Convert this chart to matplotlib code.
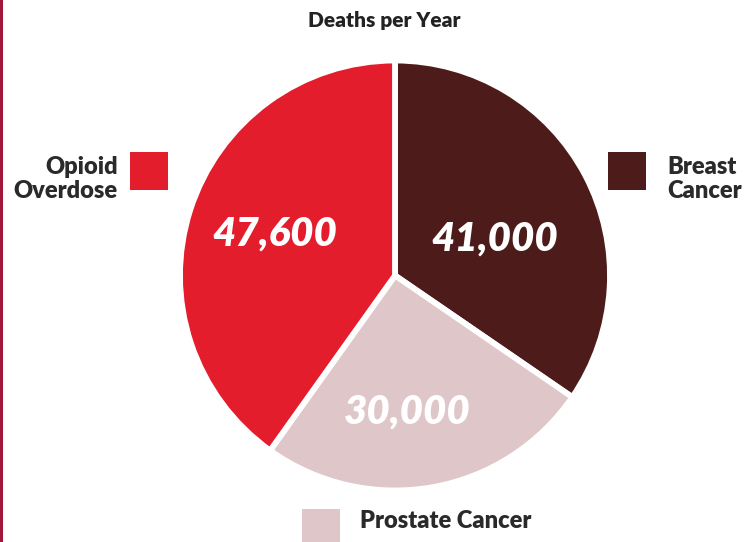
import matplotlib
matplotlib.use('Agg')
import matplotlib.pyplot as plt
from matplotlib.patches import Rectangle

# data, clockwise from 12 o'clock
causes = ['Breast\nCancer', 'Prostate Cancer', 'Opioid\nOverdose']
deaths = [41000, 30000, 47600]
colors = ['#4d1c1a', '#dfc6c9', '#e31d2c']

W, H = 746, 542
fig = plt.figure(figsize=(W / 100., H / 100.), dpi=100, facecolor='white')

def fx(px):
    return px / float(W)

def fy(py):
    return 1 - py / float(H)

# pie axes placed in pixel units: centre (395, 275), radius ~215
cx, cy, r = 395., 275.5, 215.
ax = fig.add_axes([fx(cx - r), fy(cy + r), 2 * r / W, 2 * r / H])

ax.pie(deaths, colors=colors, startangle=90, counterclock=False, radius=1.0,
       wedgeprops=dict(edgecolor='white', linewidth=4.2))

# pie() resets the limits, so set them afterwards
ax.set_xlim(-1, 1)
ax.set_ylim(-1, 1)
ax.set_aspect('equal')
ax.axis('off')

# value labels, placed by hand inside each wedge
lbl_pos = [(0.465, 0.17), (0.056, -0.635), (-0.56, 0.193)]
for val, (x, y) in zip(deaths, lbl_pos):
    ax.text(x, y, '{:,}'.format(val), ha='center', va='center',
            color='white', fontsize=29, fontweight='heavy', style='italic',
            family='Lato')

# title
fig.text(fx(384), fy(20), 'Deaths per Year', ha='center', va='center',
         fontsize=15, fontweight='heavy', family='Lato', color='#222222')

# legend boxes + labels
txt_kw = dict(fontsize=17, fontweight='heavy', family='Lato', color='#2a2a2a',
              linespacing=1.1)
sq = 38

# breast (right)
fig.patches.append(Rectangle((fx(608), fy(152 + sq)), sq / W, sq / H,
                             transform=fig.transFigure, facecolor=colors[0],
                             edgecolor='none'))
fig.text(fx(667), fy(179), causes[0], ha='left', va='center', **txt_kw)

# opioid (left)
fig.patches.append(Rectangle((fx(130), fy(152 + sq)), sq / W, sq / H,
                             transform=fig.transFigure, facecolor=colors[2],
                             edgecolor='none'))
fig.text(fx(118), fy(179), causes[2], ha='right', va='center',
         multialignment='right', **txt_kw)

# prostate (bottom)
fig.patches.append(Rectangle((fx(302), fy(509 + sq)), sq / W, sq / H,
                             transform=fig.transFigure, facecolor=colors[1],
                             edgecolor='none'))
fig.text(fx(360), fy(521), causes[1], ha='left', va='center', **txt_kw)

# thin crimson rule at the left edge
fig.patches.append(Rectangle((0, 0), 3. / W, 1, transform=fig.transFigure,
                             facecolor='#a3173d', edgecolor='none'))

fig.savefig('out.png', dpi=100, facecolor='white')
